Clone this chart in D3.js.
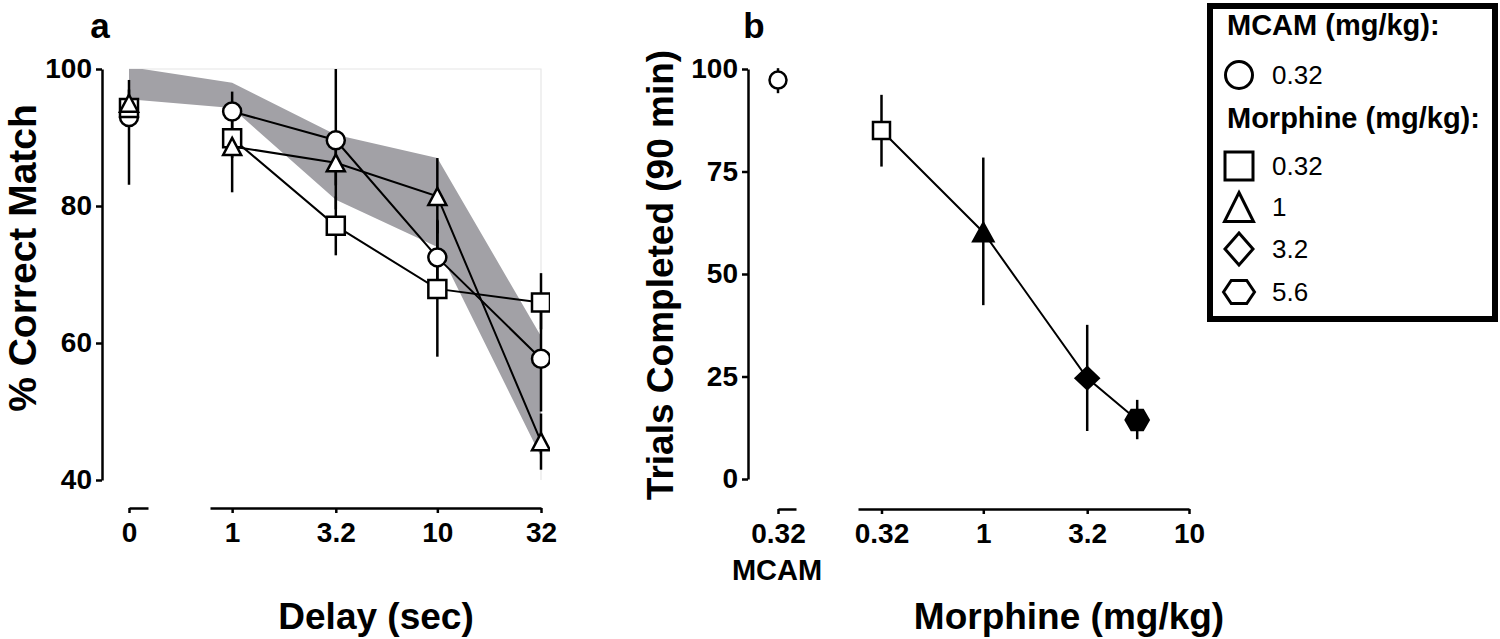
<!DOCTYPE html>
<html>
<head>
<meta charset="utf-8">
<script src="https://cdn.jsdelivr.net/npm/d3@7"></script>
<style>
  body { margin: 0; background: #fff; }
  svg { display: block; font-family: "Liberation Sans", Arial, sans-serif; }
  .axis path, .axis line { stroke: #000; stroke-width: 2.5; }
  .axis text { font-size: 28px; font-weight: bold; fill: #000; }
</style>
</head>
<body>
<div id="chart"></div>
<script>
// panel a: delay curves
var delays = [0, 1, 3.2, 10, 32];
var delayTicks = [1, 3.2, 10, 32];
var circleMean = [93.0, 93.8, 89.6, 72.5, 57.7];
var circleLo   = [83.1, 91.0, 79.5, 67.0, 50.0];
var circleHi   = [98.4, 96.7, 100.0, 78.0, 65.0];
var squareMean = [94.3, 89.9, 77.1, 67.9, 65.9];
var squareLo   = [92.5, 87.0, 72.8, 58.0, 62.0];
var squareHi   = [96.0, 92.5, 81.4, 77.8, 70.2];
var triMean    = [95.0, 88.7, 86.3, 81.4, 45.6];
var triLo      = [93.0, 82.0, 83.0, 76.0, 41.5];
var triHi      = [97.0, 91.0, 89.5, 87.0, 49.7];
var bandLo     = [95.6, 94.3, 80.9, 74.0, 43.4];
var bandHi     = [100.3, 98.0, 90.4, 87.0, 61.0];
var pctTicks = [40, 60, 80, 100];

// panel b: trials completed
var doses = [0.32, 1, 3.2, 5.6];
var doseTicks = [0.32, 1, 3.2, 10];
var doseShapes = ["square", "triangle", "diamond", "hexagon"];
var doseFills = ["#fff", "#000", "#000", "#000"];
var trialsMean = [85.0, 60.2, 24.6, 14.4];
var trialsLo   = [76.2, 42.4, 11.7, 9.7];
var trialsHi   = [93.7, 78.4, 37.6, 19.3];
var mcamTrials = [97.3], mcamLo = [94.1], mcamHi = [100.2];
var trialTicks = [0, 25, 50, 75, 100];

// legend
var legendShapes = ["circle", "square", "triangle", "diamond", "hexagon"];
var legendLabels = ["0.32", "0.32", "1", "3.2", "5.6"];

var width = 1500, height = 639;
var svg = d3.select("#chart").append("svg")
    .attr("width", width)
    .attr("height", height);

// marker shapes, centred on the point, w x h box
function shape(type, w, h) {
  var p = d3.path();
  if (type == "circle") {
    p.moveTo(w / 2, 0);
    p.arc(0, 0, w / 2, 0, 2 * Math.PI);
  } else if (type == "square") {
    p.rect(-w / 2, -h / 2, w, h);
  } else if (type == "triangle") {
    p.moveTo(0, -h / 2); p.lineTo(w / 2, h / 2); p.lineTo(-w / 2, h / 2); p.closePath();
  } else if (type == "diamond") {
    p.moveTo(0, -h / 2); p.lineTo(w / 2, 0); p.lineTo(0, h / 2); p.lineTo(-w / 2, 0); p.closePath();
  } else {
    p.moveTo(-w / 2, 0); p.lineTo(-w / 4, -h / 2); p.lineTo(w / 4, -h / 2);
    p.lineTo(w / 2, 0); p.lineTo(w / 4, h / 2); p.lineTo(-w / 4, h / 2); p.closePath();
  }
  return p.toString();
}

// ---------- panel a ----------
var ya = d3.scaleLinear().domain([40, 100]).range([480, 69]);
var xa = d3.scaleLog().domain([0.78, 32]).range([210, 541]);
var xa0 = d3.scaleLinear().domain([0, 0.2]).range([129, 148]);
function xd(d) { return d == 0 ? xa0(0) : xa(d); }

svg.append("clipPath").attr("id", "clipA")
  .append("rect").attr("x", 110).attr("y", ya(100)).attr("width", 440).attr("height", ya(40) - ya(100));

// faint frame (top and right)
svg.append("path")
  .attr("d", "M" + xa0(0) + "," + ya(100) + "H" + xa(32) + "V" + ya(40))
  .attr("fill", "none").attr("stroke", "#e6e6e6").attr("stroke-width", 1.2);

var ga = svg.append("g").attr("clip-path", "url(#clipA)");

var band = d3.area()
  .x(function(d, i) { return xd(delays[i]); })
  .y0(function(d, i) { return ya(bandLo[i]); })
  .y1(function(d, i) { return ya(bandHi[i]); });
ga.append("path").datum(delays).attr("d", band).attr("fill", "#a2a1a6");

var seriesA = [
  { mean: circleMean, lo: circleLo, hi: circleHi, type: "circle", w: 18, h: 18 },
  { mean: squareMean, lo: squareLo, hi: squareHi, type: "square", w: 18, h: 18 },
  { mean: triMean, lo: triLo, hi: triHi, type: "triangle", w: 18, h: 17 }
];

seriesA.forEach(function(s) {
  ga.selectAll(null).data(delays).enter().append("line")
    .attr("x1", function(d) { return xd(d); })
    .attr("x2", function(d) { return xd(d); })
    .attr("y1", function(d, i) { return ya(s.lo[i]); })
    .attr("y2", function(d, i) { return ya(s.hi[i]); })
    .attr("stroke", "#000").attr("stroke-width", 2.5);
});

var lineA = d3.line()
  .x(function(d) { return xa(d.x); })
  .y(function(d) { return ya(d.y); });
seriesA.forEach(function(s) {
  var pts = delays.slice(1).map(function(d, i) { return { x: d, y: s.mean[i + 1] }; });
  ga.append("path").datum(pts).attr("d", lineA)
    .attr("fill", "none").attr("stroke", "#000").attr("stroke-width", 2);
});

seriesA.forEach(function(s) {
  ga.selectAll(null).data(delays).enter().append("path")
    .attr("d", shape(s.type, s.w, s.h))
    .attr("transform", function(d, i) { return "translate(" + xd(d) + "," + ya(s.mean[i]) + ")"; })
    .attr("fill", "#fff").attr("stroke", "#000").attr("stroke-width", 2.5);
});

svg.append("g").attr("class", "axis")
  .attr("transform", "translate(102,0)")
  .call(d3.axisLeft(ya).tickValues(pctTicks).tickSize(6).tickSizeOuter(0).tickPadding(4));

svg.append("g").attr("class", "axis")
  .attr("transform", "translate(0,508)")
  .call(d3.axisBottom(xa).tickValues(delayTicks).tickFormat(d3.format("")).tickSize(5).tickSizeOuter(0).tickPadding(9));

svg.append("g").attr("class", "axis")
  .attr("transform", "translate(0,508)")
  .call(d3.axisBottom(xa0).tickValues([0]).tickFormat(d3.format("d")).tickSize(5).tickSizeOuter(0).tickPadding(9));

// ---------- panel b ----------
var yb = d3.scaleLinear().domain([0, 100]).range([479, 69]);
var xb = d3.scaleLog().domain([0.246, 10]).range([858, 1189]);
var xb0 = d3.scaleLinear().domain([0, 1]).range([778, 796]);

// MCAM point
svg.append("line")
  .attr("x1", xb0(0)).attr("x2", xb0(0))
  .attr("y1", yb(mcamLo[0])).attr("y2", yb(mcamHi[0]))
  .attr("stroke", "#000").attr("stroke-width", 2.5);
svg.append("path")
  .attr("d", shape("circle", 17, 17))
  .attr("transform", "translate(" + xb0(0) + "," + yb(mcamTrials[0]) + ")")
  .attr("fill", "#fff").attr("stroke", "#000").attr("stroke-width", 2.5);

svg.selectAll(null).data(doses).enter().append("line")
  .attr("x1", function(d) { return xb(d); })
  .attr("x2", function(d) { return xb(d); })
  .attr("y1", function(d, i) { return yb(trialsLo[i]); })
  .attr("y2", function(d, i) { return yb(trialsHi[i]); })
  .attr("stroke", "#000").attr("stroke-width", 2.5);

svg.append("path")
  .datum(doses)
  .attr("d", d3.line().x(function(d) { return xb(d); }).y(function(d, i) { return yb(trialsMean[i]); }))
  .attr("fill", "none").attr("stroke", "#000").attr("stroke-width", 2);

var sizesB = { square: [17, 17], triangle: [20, 18], diamond: [23, 22], hexagon: [23, 20] };
svg.selectAll(null).data(doses).enter().append("path")
  .attr("d", function(d, i) { var s = sizesB[doseShapes[i]]; return shape(doseShapes[i], s[0], s[1]); })
  .attr("transform", function(d, i) { return "translate(" + xb(d) + "," + yb(trialsMean[i]) + ")"; })
  .attr("fill", function(d, i) { return doseFills[i]; })
  .attr("stroke", "#000").attr("stroke-width", 2.5);

svg.append("g").attr("class", "axis")
  .attr("transform", "translate(748,0)")
  .call(d3.axisLeft(yb).tickValues(trialTicks).tickSize(6).tickSizeOuter(0).tickPadding(4));

svg.append("g").attr("class", "axis")
  .attr("transform", "translate(0,509)")
  .call(d3.axisBottom(xb).tickValues(doseTicks).tickFormat(d3.format("")).tickSize(5).tickSizeOuter(0).tickPadding(9));

svg.append("g").attr("class", "axis")
  .attr("transform", "translate(0,509)")
  .call(d3.axisBottom(xb0).tickValues([0]).tickFormat(function() { return "0.32"; }).tickSize(5).tickSizeOuter(0).tickPadding(9));

// ---------- labels ----------
function label(txt, x, y, size, rot) {
  svg.append("text")
    .attr("transform", "translate(" + x + "," + y + ")" + (rot ? " rotate(-90)" : ""))
    .attr("text-anchor", "middle")
    .style("font-size", size + "px").style("font-weight", "bold")
    .text(txt);
}
label("a", 100, 38, 35);
label("b", 754, 38, 35);
label("% Correct Match", 36, 258, 39, true);
label("Trials Completed (90 min)", 673, 275, 37, true);
label("Delay (sec)", 376, 629, 37);
label("Morphine (mg/kg)", 1069, 629, 37);
label("MCAM", 777, 580, 29);

// ---------- legend ----------
var lg = svg.append("g");
lg.append("rect")
  .attr("x", 1210).attr("y", 6).attr("width", 285).attr("height", 313)
  .attr("fill", "#fff").attr("stroke", "#000").attr("stroke-width", 6);

lg.append("text").attr("x", 1227).attr("y", 35)
  .style("font-size", "29px").style("font-weight", "bold").text("MCAM (mg/kg):");
lg.append("text").attr("x", 1227).attr("y", 128)
  .style("font-size", "29px").style("font-weight", "bold").text("Morphine (mg/kg):");

var legY = [75, 166, 207, 249, 292];
var legSize = { circle: [27, 28], square: [28, 28], triangle: [29, 29], diamond: [28, 32], hexagon: [31, 23] };
lg.selectAll(null).data(legendShapes).enter().append("path")
  .attr("d", function(d) { return shape(d, legSize[d][0], legSize[d][1]); })
  .attr("transform", function(d, i) { return "translate(1239," + legY[i] + ")"; })
  .attr("fill", "#fff").attr("stroke", "#000").attr("stroke-width", 3);
lg.selectAll(null).data(legendLabels).enter().append("text")
  .attr("x", 1272).attr("y", function(d, i) { return legY[i]; })
  .attr("dy", "0.36em")
  .style("font-size", "26px")
  .text(function(d) { return d; });
</script>
</body>
</html>
